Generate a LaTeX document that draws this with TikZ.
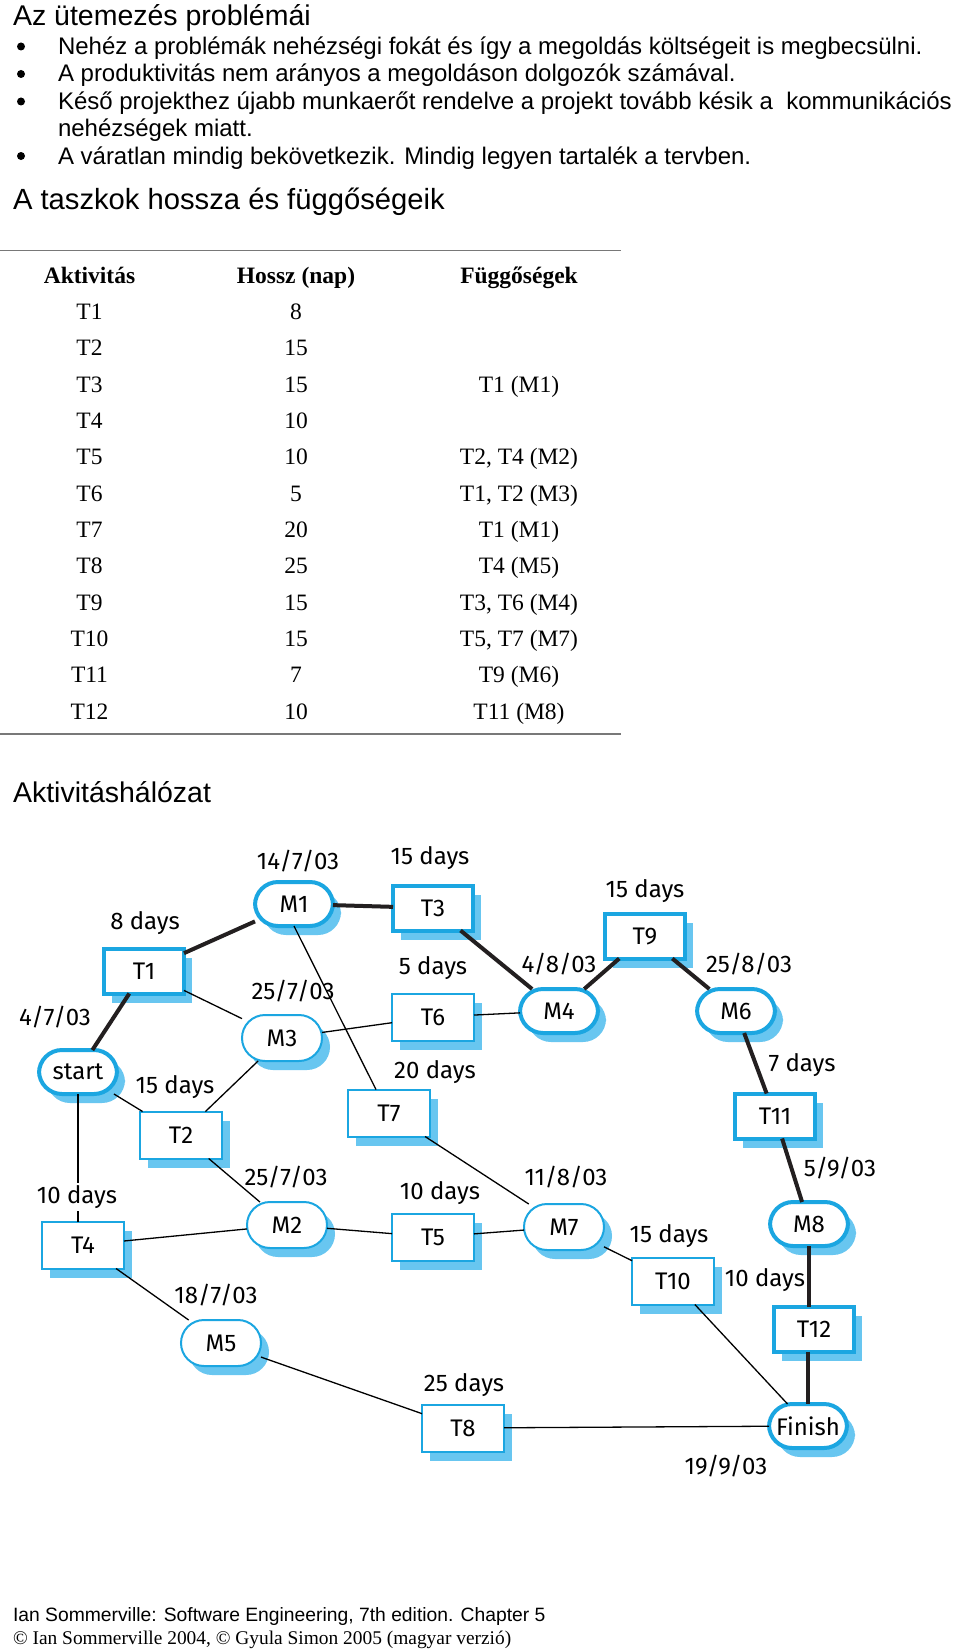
\documentclass[tikz,border=0pt]{standalone}
\usepackage{fontspec}
\setmainfont{Liberation Sans}
\newfontfamily\tmsfont{Liberation Serif}
\newfontfamily\dgfont{Fira Sans}
\usetikzlibrary{shadows}
\definecolor{bord}{RGB}{27,166,225}
\definecolor{shblue}{RGB}{104,198,240}
\definecolor{thk}{RGB}{35,31,32}
\definecolor{rule}{RGB}{120,120,120}
\begin{document}
\begin{tikzpicture}[x=1pt,y=-1pt,
  every node/.style={inner sep=0pt,outer sep=0pt},
  dg/.style={font=\dgfont\fontsize{24}{27}\selectfont},
  task/.style={dg,draw=bord,fill=white,line width=2pt,minimum width=82pt,minimum height=47pt,
    drop shadow={shadow xshift=8pt,shadow yshift=-9pt,fill=shblue,opacity=1}},
  ctask/.style={task,line width=4pt,minimum width=80pt,minimum height=45pt},
  mile/.style={task,rounded corners=23pt,minimum width=80pt,minimum height=46pt},
  cmile/.style={mile,line width=4pt,minimum width=78pt,minimum height=44pt},
  lab/.style={dg},
  cl/.style={line width=4pt,draw=thk},
  tl/.style={line width=1.3pt,draw=black},
  head/.style={anchor=base west,font=\fontsize{28.5}{32}\selectfont},
  bul/.style={anchor=base west,font=\fontsize{24}{28}\selectfont},
  tab/.style={anchor=base,font=\tmsfont\fontsize{23.5}{26}\selectfont},
  tabh/.style={tab,font=\tmsfont\bfseries\fontsize{23.5}{26}\selectfont},
  bdot/.style={fill=black}
]
\path[use as bounding box,fill=white] (0,0) rectangle (960,1651);

% ---------- top text ----------
\node[head] (title1) at (13,25.5) {Az ütemezés problémái};
\foreach \yy in {46.5,74,101.5,156}{\fill[bdot] (21,\yy) circle (4);}
\node[bul] (b1) at (58,54.5) {Nehéz a problémák nehézségi fokát és így a megoldás költségeit is megbecsülni.};
\node[bul] (b2) at (58,82) {A produktivitás nem arányos a megoldáson dolgozók számával.};
\node[bul] (b3) at (58,109.5) {Késő projekthez újabb munkaerőt rendelve a projekt tovább késik a\ \ kommunikációs};
\node[bul] (b3b) at (58,137) {nehézségek miatt.};
\node[bul] (b4) at (58,164.5) {A váratlan mindig bekövetkezik. Mindig legyen tartalék a tervben.};
\node[head,font=\fontsize{29.2}{32}\selectfont] (title2) at (13,209.5) {A taszkok hossza és függőségeik};

% ---------- table ----------
\draw[rule,line width=1.3pt] (0,250.5) -- (621,250.5);
\draw[rule,line width=1.3pt] (0,734) -- (621,734);
\node[tabh] (h1) at (89.5,283.5) {Aktivitás};
\node[tabh] (h2) at (296,283.5) {Hossz (nap)};
\node[tabh] (h3) at (519,283.5) {Függőségek};
\foreach \t/\d/\f [count=\i from 0] in {T1/8/{},T2/15/{},T3/15/{T1 (M1)},T4/10/{},T5/10/{T2, T4 (M2)},T6/5/{T1, T2 (M3)},T7/20/{T1 (M1)},T8/25/{T4 (M5)},T9/15/{T3, T6 (M4)},T10/15/{T5, T7 (M7)},T11/7/{T9 (M6)},T12/10/{T11 (M8)}}{
  \pgfmathsetmacro{\yy}{319.4+36.35*\i}
  \node[tab] (ra\i) at (89.5,\yy) {\t};
  \node[tab] (rb\i) at (296,\yy) {\d};
  \node[tab] (rc\i) at (519,\yy) {\f};
}

\node[head] (title3) at (13,802) {Aktivitáshálózat};

% ---------- network nodes ----------
\node[cmile] (start) at (78,1072) {start};
\node[ctask] (t1) at (144,971) {T1};
\node[cmile] (m1) at (294,904) {M1};
\node[ctask] (t3) at (433,908) {T3};
\node[mile] (m3) at (282,1038) {M3};
\node[task] (t6) at (433,1017) {T6};
\node[cmile] (m4) at (559,1011) {M4};
\node[ctask] (t9) at (645,936) {T9};
\node[cmile] (m6) at (736,1011) {M6};
\node[task] (t2) at (181,1135) {T2};
\node[task] (t7) at (389,1113) {T7};
\node[ctask] (t11) at (775,1116) {T11};
\node[task] (t4) at (83,1245) {T4};
\node[mile] (m2) at (287,1225) {M2};
\node[task] (t5) at (433,1237) {T5};
\node[mile] (m7) at (564,1227) {M7};
\node[cmile] (m8) at (809,1224) {M8};
\node[task] (t10) at (673,1281) {T10};
\node[ctask] (t12) at (814,1329) {T12};
\node[mile] (m5) at (221,1343) {M5};
\node[task] (t8) at (463,1428) {T8};
\node[cmile] (finish) at (808,1426) {Finish};

% ---------- connectors ----------
\draw[cl] (start) -- (t1);
\draw[cl] (t1) -- (m1);
\draw[cl] (m1) -- (t3);
\draw[cl] (t3) -- (m4);
\draw[cl] (m4) -- (t9);
\draw[cl] (t9) -- (m6);
\draw[cl] (m6) -- (t11);
\draw[cl] (t11) -- (m8);
\draw[cl] (m8.south) -- (m8.south |- t12.north);
\draw[cl] (finish.north |- t12.south) -- (finish.north);

\draw[tl] (t1) -- (m3);
\draw[tl] (m1.south) -- ([xshift=-13pt]t7.north);
\draw[tl] (m3) -- (t6);
\draw[tl] (t6) -- (m4);
\draw[tl] (start) -- (t2);
\draw[tl] (t2) -- (m3);
\draw[tl] (start.south) -- (start.south |- t4.north);
\draw[tl] (t2) -- (m2);
\draw[tl] (t4) -- (m2);
\draw[tl] (m2) -- (t5);
\draw[tl] (t4) -- (m5);
\draw[tl] (m5) -- (t8);
\draw[tl] (t7) -- (m7);
\draw[tl] (t5) -- (m7);
\draw[tl] (m7) -- (t10);
\draw[tl] (t10) -- (finish);
\draw[tl] (t8) -- (finish);

% ---------- labels ----------
\node[lab] (l1) at (298,861) {14/7/03};
\node[lab] (l2) at (430,858) {15 days};
\node[lab] (l3) at (145,923) {8 days};
\node[lab] (l4) at (293,991) {25/7/03};
\node[lab] (l5) at (433,968) {5 days};
\node[lab] (l6) at (559,964) {4/8/03};
\node[lab] (l7) at (645,891) {15 days};
\node[lab] (l8) at (749,964) {25/8/03};
\node[lab] (l9) at (55,1017) {4/7/03};
\node[lab] (l10) at (175,1087) {15 days};
\node[lab] (l11) at (435,1072) {20 days};
\node[lab] (l12) at (802,1065) {7 days};
\node[lab,fill=white,inner sep=2pt] (l13) at (77,1197) {10 days};
\node[lab] (l14) at (286,1177) {25/7/03};
\node[lab] (l15) at (440,1193) {10 days};
\node[lab] (l16) at (566,1177) {11/8/03};
\node[lab] (l17) at (669,1236) {15 days};
\node[lab] (l18) at (840,1168) {5/9/03};
\node[lab] (l19) at (765,1280) {10 days};
\node[lab] (l20) at (216,1295) {18/7/03};
\node[lab] (l21) at (464,1385) {25 days};
\node[lab] (l22) at (726,1466) {19/9/03};

% ---------- footer ----------
\node[anchor=base west,font=\fontsize{19.3}{22}\selectfont] (f1) at (13,1621) {Ian Sommerville: Software Engineering, 7th edition. Chapter 5};
\node[anchor=base west,font=\tmsfont\fontsize{19.4}{22}\selectfont] (f2) at (13,1644) {© Ian Sommerville 2004, © Gyula Simon 2005 (magyar verzió)};
\end{tikzpicture}
\end{document}
